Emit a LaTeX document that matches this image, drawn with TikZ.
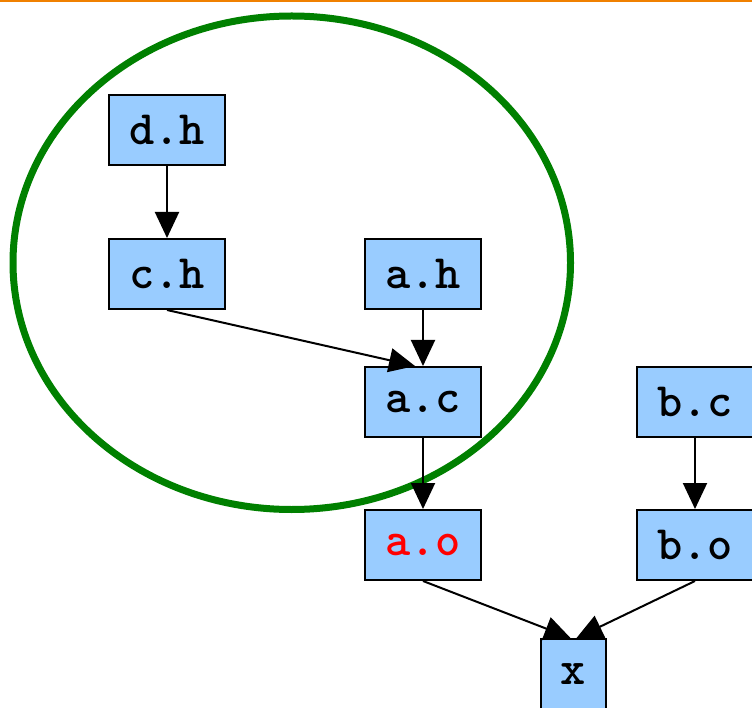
\documentclass[tikz,border=0pt]{standalone}
\usepackage{fontspec}
\usetikzlibrary{arrows.meta}
\definecolor{boxblue}{HTML}{99CCFF}
\definecolor{ringgreen}{HTML}{008000}
\definecolor{topline}{RGB}{240,128,0}
\begin{document}
\begin{tikzpicture}[x=1pt,y=-1pt,
  box/.style={draw=black, line width=2pt, fill=boxblue, minimum width=116pt, minimum height=70pt, inner sep=0pt,
    font=\ttfamily\bfseries\fontsize{48}{48}\selectfont},
  edge/.style={line width=2pt, -{Triangle[length=26pt,width=24pt]}},
  ring/.style={draw=ringgreen, line width=7pt},
  rule/.style={draw=topline, line width=2.5pt}]
\useasboundingbox (0,0) rectangle (752,708);
\clip (0,0) rectangle (752,708);
\draw[rule] (0,1) -- (752,1);
\draw[ring] (291.75,262.75) ellipse [x radius=278.75pt, y radius=246.75pt];
\node[box] (dh) at (167,130) {d.h};
\node[box] (ch) at (167,274) {c.h};
\node[box] (ah) at (423,274) {a.h};
\node[box] (ac) at (423,402) {a.c};
\node[box] (bc) at (695,402) {b.c};
\node[box] (ao) at (423,545) {\textcolor{red}{a.o}};
\node[box] (bo) at (695,545) {b.o};
\node[box, minimum width=65pt] (x) at (573.5,674) {x};
\coordinate (acin) at ([xshift=-8pt]ac.north);
\coordinate (xl) at ([xshift=-3pt]x.north);
\coordinate (xr) at ([xshift=3pt]x.north);
\draw[edge] (dh) -- (ch);
\draw[edge] (ch.south) -- (acin);
\draw[edge] (ah) -- (ac);
\draw[edge] (ac) -- (ao);
\draw[edge] (bc) -- (bo);
\draw[edge] (ao.south) -- (xl);
\draw[edge] (bo.south) -- (xr);
\end{tikzpicture}
\end{document}
